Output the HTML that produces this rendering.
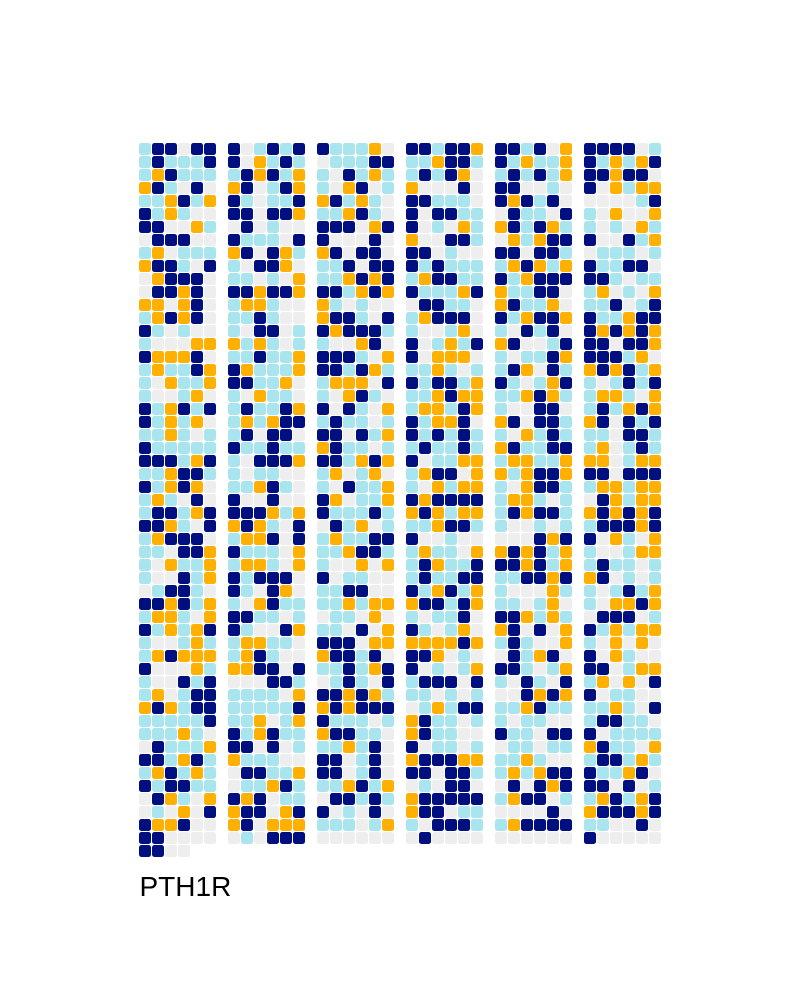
<!DOCTYPE html>
<html lang="en">
<head>
<meta charset="utf-8">
<title>PTH1R</title>
<style>
html,body{margin:0;padding:0;background:#fff;width:800px;height:1000px;overflow:hidden}
svg{display:block}
text{font-family:"Liberation Sans",sans-serif}
</style>
</head>
<body>
<svg id="chart" width="800" height="1000" viewBox="0 0 800 1000" xmlns="http://www.w3.org/2000/svg">
<g id="cells"></g>
<text x="139.5" y="896" font-size="28" fill="#000">PTH1R</text>
</svg>
<script>
// l = light blue, n = navy, o = orange, e = empty
const panel1 = ["lnnenn","lnllln","lonlll","onlene","llonlo","nlolee","nneeol","ennnee","loelll","onnlen","eonnne","ennone","ooeone","lonone","nlelee","leeeoo","nooone","lollno","leollo","leeloe","nlonln","nloloe","llolel","nlllll","nnnlon","llonnl","nlonoe","lolene","lnnlon","nnolen","lonnne","llenno","leollo","leenlo","elnnle","nnonlo","looleo","nlolon","leelol","lonooo","neeeol","leenln","loelnn","onolnn","llllln","lllole","enlllo","nnlonl","lonlol","nlnnll","enoleo","eleoen","noonee","nneeee","nnee"];
const panel2 = ["nelnln","neolnl","lnonlo","onelno","nlelln","nnenno","enelee","nlllen","onenol","lennoe","lleleo","nnonno","loolee","llnlee","lennel","ololel","llnllo","nolllo","nnlloe","leolle","lnllno","lolonn","lnenne","nllnll","lennno","lellee","llonle","neenee","nnnolo","onolen","loonen","nllleo","looleo","nlnnne","nlenoe","leonll","nnllel","nleeno","loolle","lonlee","oonnen","eeennl","lllleo","llllln","lloelo","nlonll","nnenel","olllee","ennllo","ellonl","nonell","onneon","oneooo","elennn"];
const panel3 = ["nllloe","elllnn","lenlol","leonel","onlole","llonle","nnneon","neeene","onenne","llnenn","llonon","nnlono","olelee","onnlen","nonnnl","leeone","nnnleo","nnlnol","loooen","leonle","nenleo","lnllel","nnenlo","onllel","nnlono","loeloe","lenllo","noello","nlllnl","enloel","lollnn","llonnl","leeoeo","nellee","llnnee","lloloo","elleoe","lleneo","nnneoo","onnlne","llnlon","elnlen","nnonol","ononnn","nlllel","onnlle","llolne","nnelne","nnelne","llonlo","ennlnl","nelene","lllelo","eeeeee"];
const panel4 = ["nnlnno","llonnl","lnlnoe","oeeene","nnllle","nennll","neleol","oeennl","nnelee","nlnlll","lonnll","nlllon","ennlle","lonnne","leeloe","neloln","neoooe","llolel","nlnnlo","llonoo","loolno","nloone","nlnlnl","lnllnl","nelloo","lonneo","leoloo","nonnnn","onoloo","llonnl","neelee","lolleo","lnolln","lnllnn","nlonlo","onnlno","lellne","nleloe","oooono","nnoele","nelelo","lnnnen","llelel","elolnn","onllel","onllee","nellel","onnnoo","nnennl","elenne","onnnnn","onnell","lennnl","eneeee"];
const panel5 = ["nnlneo","nlollo","lnlnlo","nneele","nonlne","enllen","onlnol","eolonn","nnennl","lonolo","nlonnn","ollnne","onlloe","nlonno","lenlne","oneeln","lellno","lnoenl","nlelon","llonol","leenne","onennl","leolnl","onllnn","loollo","olonno","leonnl","loolel","lnonnl","leelel","eeenon","ononlo","nnonlo","llnnon","leeeol","lleloe","nnolol","oneneo","lnleeo","enlone","nnlelo","lenlen","eenono","llonll","lellee","nllenn","ellell","llolee","lolonn","enenon","lonnel","eeeene","lonnnn","eeeeee"];
const panel6 = ["nnnnel","nlolon","nnonne","neoloo","eeeeln","leoeeo","leleol","neenlo","elllel","nllnne","nnlell","loeleo","llneln","nllonn","nonono","nnenno","nnnloe","ononlo","lelnln","looleo","lnlono","onenln","llennl","loelnl","ooeloo","nnennn","looloo","enoloo","ononon","lnnnon","neoleo","leeloo","lnllel","onelel","lelnlo","leoono","ennnel","nloloo","leoeoe","neolee","nneloo","loeoen","nellee","llolen","lnnlle","nellll","onlleo","lnnlol","nllone","nnenel","lonlon","onnnon","lleene","neeeee"];

const panels = [panel1, panel2, panel3, panel4, panel5, panel6];
const statusNames = { l: 'light', n: 'navy', o: 'orange', e: 'empty' };

function colorOf(code) {
  if (code === 'l') return '#a9e5ef';
  if (code === 'n') return '#000f80';
  if (code === 'o') return '#ffb000';
  return '#eeeeee';
}
function xScale(panelIndex, colIndex) { return 139 + panelIndex * 89 + colIndex * 13; }
function yScale(rowIndex) { return 143 + rowIndex * 13; }

const root = document.getElementById('cells');
panels.forEach(function (panel, p) {
  const g = document.createElementNS('http://www.w3.org/2000/svg', 'g');
  
  
  panel.forEach(function (row, r) {
    row.split('').forEach(function (code, c) {
      const el = document.createElementNS('http://www.w3.org/2000/svg', 'rect');
      el.setAttribute('x', xScale(p, c));
      el.setAttribute('y', yScale(r));
      el.setAttribute('width', 12);
      el.setAttribute('height', 12);
      el.setAttribute('rx', 2.5);
      el.setAttribute('fill', colorOf(code));
      
      
      g.appendChild(el);
    });
  });
  root.appendChild(g);
});
</script>
</body>
</html>
